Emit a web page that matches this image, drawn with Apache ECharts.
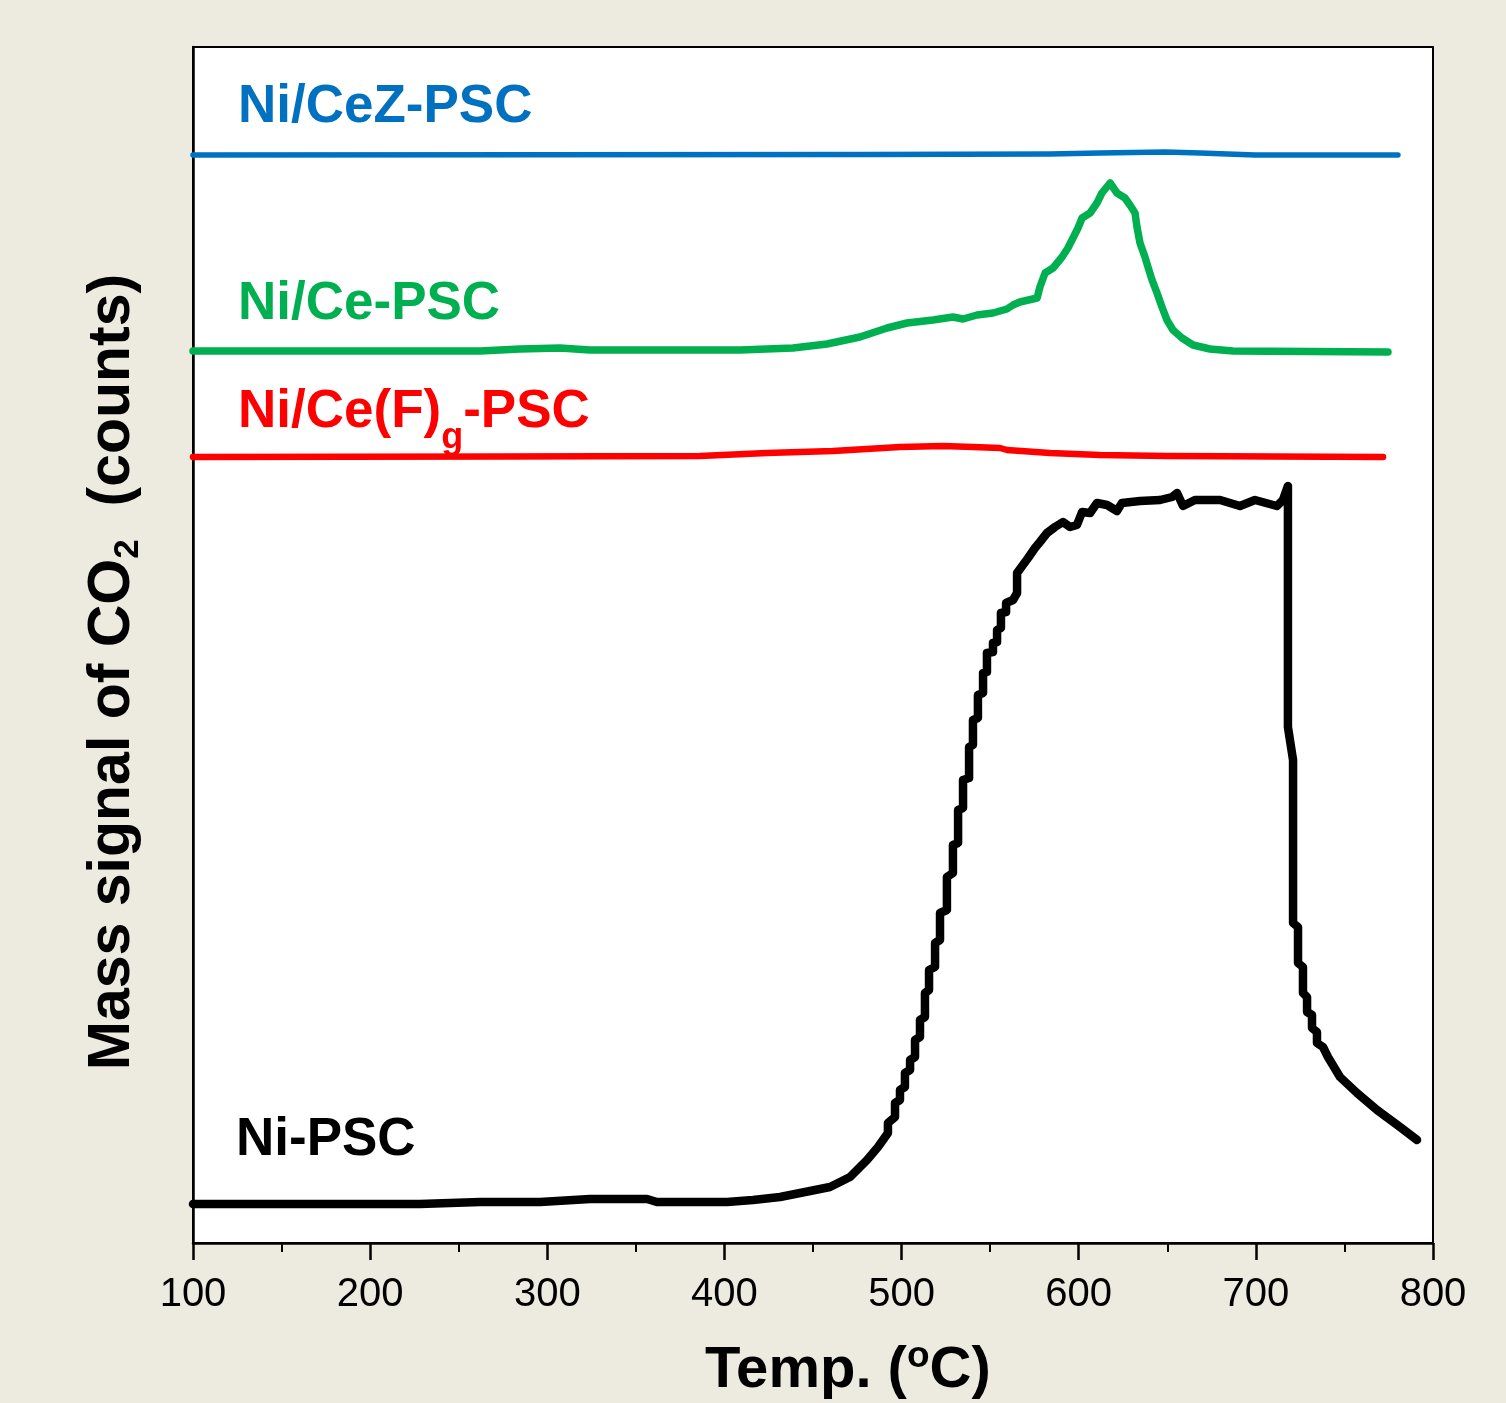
<!DOCTYPE html>
<html>
<head>
<meta charset="utf-8">
<script src="https://cdn.jsdelivr.net/npm/echarts@6/dist/echarts.min.js"></script>
<style>
html,body{margin:0;padding:0;background:#EDEADF;}
#chart{width:1506px;height:1403px;}
</style>
</head>
<body>
<div id="chart"></div>
<script>
// X axis ticks (°C)
const xTicks = [100, 200, 300, 400, 500, 600, 700, 800];

// Ni/CeZ-PSC (blue)
const cezT = [100, 482.2, 583.8, 612.0, 648.7, 668.5, 699.5, 780.2];
const cezS = [108.8, 108.85, 108.9, 109.0, 109.1, 109.0, 108.8, 108.8];

// Ni/Ce-PSC (green)
const ceT = [100, 262.0, 284.6, 307.2, 324.1, 386.2, 408.8, 438.7, 457.9, 476.5, 491.8, 503.1, 517.7, 529.0, 534.7, 542.6, 551.6, 559.5, 562.9, 566.8, 576.5, 578.1, 581.0, 585.5, 590.6, 593.9, 596.2, 599.6, 601.9, 606.4, 610.3, 613.1, 617.7, 621.6, 626.1, 628.9, 631.8, 632.9, 634.6, 637.4, 639.1, 641.4, 644.2, 647.0, 649.8, 653.2, 658.3, 664.5, 674.1, 687.1, 774.6];
const ceS = [89.2, 89.2, 89.4, 89.5, 89.3, 89.3, 89.3, 89.5, 89.9, 90.6, 91.5, 92.0, 92.3, 92.6, 92.4, 92.8, 93.0, 93.4, 93.8, 94.1, 94.5, 95.6, 97.0, 97.5, 98.6, 99.5, 100.3, 101.5, 102.5, 103.0, 104.0, 105.0, 106.0, 105.0, 104.5, 103.8, 103.0, 101.6, 100.0, 98.6, 97.6, 96.3, 95.0, 93.6, 92.3, 91.3, 90.5, 89.8, 89.4, 89.2, 89.1];

// Ni/Ce(F)g-PSC (red)
const cefT = [100, 273.3, 386.2, 424.0, 461.3, 499.1, 523.4, 540.3, 555.6, 559.5, 583.8, 612.0, 649.8, 771.8];
const cefS = [78.6, 78.65, 78.7, 79.0, 79.2, 79.6, 79.7, 79.6, 79.5, 79.3, 79.0, 78.8, 78.7, 78.6];

// Ni-PSC (black)
const niT = [100, 160, 228.1, 262.0, 295.9, 324.1, 356.3, 361.9, 401.5, 416.1, 431.4, 442.7, 459.6, 470.9, 480.5, 486.7,
  492.3, 492.3, 496.3, 496.3, 499.1, 499.1, 501.9, 501.9, 504.8, 504.8, 507.6, 507.6, 510.4, 510.4, 513.2, 513.2,
  515.5, 515.5, 518.9, 518.9, 521.7, 521.7, 525.6, 525.6, 529.0, 529.0, 531.9, 531.9, 534.7, 534.7, 538.1, 538.1,
  540.3, 540.3, 543.1, 543.1, 546.0, 546.0, 548.2, 548.2, 551.6, 551.6, 553.9, 553.9, 556.1, 556.1, 559.0, 559.0,
  562.9, 565.2, 565.2, 568.5, 571.4, 575.3, 578.1, 582.1, 586.6, 591.1, 595.1, 599.0, 601.9, 606.4, 610.3, 616.0,
  621.6, 624.4, 634.6, 645.9, 652.7, 655.5, 658.9, 665.6, 679.8, 691.0, 699.5, 711.9, 715.3, 718.1, 718.1, 721.0,
  721.0, 723.8, 723.8, 726.6, 726.6, 728.9, 728.9, 731.7, 731.7, 734.5, 734.5, 737.9, 740.7, 747.5, 757.1, 768.4,
  781.4, 791.0];
const niS = [3.9, 3.9, 3.9, 4.1, 4.1, 4.4, 4.4, 4.1, 4.1, 4.3, 4.6, 5.0, 5.6, 6.6, 8.3, 9.6,
  11.0, 12.0, 12.6, 14.0, 14.3, 15.3, 15.6, 17.0, 17.3, 18.3, 18.6, 20.3, 20.6, 22.3, 22.6, 25.0,
  25.3, 27.3, 27.6, 30.0, 30.3, 33.0, 33.3, 36.6, 37.0, 39.8, 40.0, 43.3, 43.5, 46.3, 46.5, 49.6,
  49.8, 52.3, 52.5, 54.8, 55.0, 57.0, 57.1, 59.0, 59.1, 60.0, 60.1, 61.3, 61.5, 63.0, 63.1, 64.0,
  64.3, 65.0, 67.0, 67.8, 68.5, 69.5, 70.1, 71.0, 71.6, 72.1, 71.6, 71.8, 73.1, 73.0, 74.0, 73.8,
  73.2, 74.0, 74.2, 74.3, 74.6, 75.0, 73.7, 74.3, 74.3, 73.7, 74.3, 73.7, 74.3, 75.7, 51.6, 48.3,
  32.0, 31.6, 28.0, 27.6, 25.0, 24.6, 23.1, 22.8, 21.5, 21.1, 20.0, 19.6, 18.6, 16.6, 15.0, 13.3,
  11.6, 10.3];

const labels = ['Ni/CeZ-PSC', 'Ni/Ce-PSC', 'Ni/Ce(F)g-PSC', 'Ni-PSC'];
const colors = ['#0070C0', '#00B050', '#FF0000', '#000000'];

function zip(a, b) { return a.map((v, i) => [v, b[i]]); }

const chart = echarts.init(document.getElementById('chart'), null, {renderer: 'canvas'});
const FONT = '"Liberation Sans", Arial, sans-serif';

function lineSeries(name, t, s, color, w) {
  return {
    name: name, type: 'line', data: zip(t, s), showSymbol: false, symbol: 'none',
    smooth: false, animation: false, silent: true,
    lineStyle: {color: color, width: w, cap: 'round', join: 'round'}
  };
}

chart.setOption({
  backgroundColor: '#EDEADF',
  animation: false,
  grid: {left: 193, right: 73, top: 47, bottom: 160, show: true, backgroundColor: '#FFFFFF',
         borderColor: '#000', borderWidth: 2, containLabel: false, outerBoundsMode: 'none'},
  xAxis: {
    type: 'value', min: xTicks[0], max: xTicks[xTicks.length - 1], interval: 100,
    axisLine: {show: true, lineStyle: {color: '#000', width: 2.5}},
    axisTick: {show: true, inside: false, length: 17, lineStyle: {color: '#000', width: 2.5}},
    minorTick: {show: true, splitNumber: 2, length: 9, lineStyle: {color: '#000', width: 2}},
    splitLine: {show: false},
    axisLabel: {show: true, margin: 32, color: '#000', fontSize: 40, fontFamily: FONT,
      formatter: v => xTicks.includes(v) ? String(v) : ''}
  },
  yAxis: {
    type: 'value', min: 0, max: 119.6,
    axisLine: {show: true, lineStyle: {color: '#000', width: 2.5}},
    axisTick: {show: false}, axisLabel: {show: false}, splitLine: {show: false}
  },
  series: [
    lineSeries(labels[0], cezT, cezS, colors[0], 5.5),
    lineSeries(labels[1], ceT, ceS, colors[1], 7.5),
    lineSeries(labels[2], cefT, cefS, colors[2], 6.5),
    lineSeries(labels[3], niT, niS, colors[3], 8.5)
  ],
  graphic: [
    {type: 'text', left: 238, top: 111 - 30, style: {text: labels[0], fill: colors[0], font: 'bold 53px ' + FONT}},
    {type: 'text', left: 238, top: 308 - 30, style: {text: labels[1], fill: colors[1], font: 'bold 53px ' + FONT}},
    {type: 'text', x: 238, y: 386, style: {
      text: '{m|Ni/Ce(F)}{s|g}{m|-PSC}', fill: colors[2],
      rich: {
        m: {fontFamily: FONT, fontWeight: 'bold', fontSize: 53, lineHeight: 60, fill: colors[2], verticalAlign: 'top'},
        s: {fontFamily: FONT, fontWeight: 'bold', fontSize: 36, lineHeight: 36, fill: colors[2], verticalAlign: 'bottom', padding: [0, 0, -10, 0]}
      }}},
    {type: 'text', left: 236, top: 1144 - 30, style: {text: labels[3], fill: colors[3], font: 'bold 53px ' + FONT}},
    {type: 'text', x: 705, y: 1338, style: {
      text: '{m|Temp. (}{s|o}{m|C)}', fill: '#000',
      rich: {
        m: {fontFamily: FONT, fontWeight: 'bold', fontSize: 58, lineHeight: 66, fill: '#000'},
        s: {fontFamily: FONT, fontWeight: 'bold', fontSize: 37, lineHeight: 37, fill: '#000', verticalAlign: 'top'}
      }}},
    {type: 'text', x: 113, y: 672, rotation: Math.PI / 2, style: {
      text: '{m|Mass signal of CO}{s|2}{m|  (counts)}', fill: '#000', align: 'center', verticalAlign: 'middle',
      rich: {
        m: {fontFamily: FONT, fontWeight: 'bold', fontSize: 59, lineHeight: 66, fill: '#000'},
        s: {fontFamily: FONT, fontWeight: 'bold', fontSize: 35, lineHeight: 35, fill: '#000', verticalAlign: 'bottom'}
      }}}
  ]
});
</script>
</body>
</html>
